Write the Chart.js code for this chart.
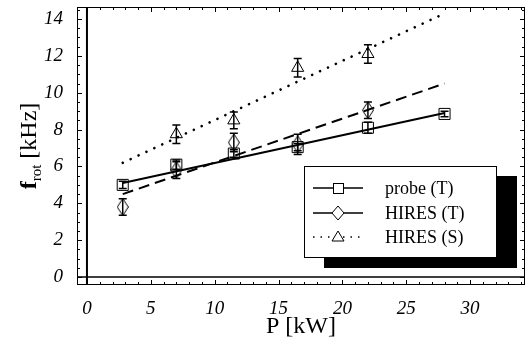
<!DOCTYPE html>
<html>
<head>
<meta charset="utf-8">
<script src="https://cdn.jsdelivr.net/npm/chart.js@4.4.1/dist/chart.umd.min.js"></script>
<style>
  html, body { margin: 0; background: #fff; }
  #wrap { width: 532px; height: 343px; }
</style>
</head>
<body>
<div id="wrap"><canvas id="frotChart"></canvas></div>
<script>
const probeP = [2.8, 7.0, 11.5, 16.5, 22.0, 28.0];
const probeF = [5.0, 6.1, 6.7, 7.05, 8.1, 8.85];
const probeErr = [0.2, 0.25, 0.2, 0.2, 0.3, 0.15];

const hiresTP = [2.8, 7.0, 11.5, 16.5, 22.0];
const hiresTF = [3.8, 5.8, 7.3, 7.2, 9.05];
const hiresTErr = [0.45, 0.45, 0.5, 0.55, 0.45];

const hiresSP = [7.0, 11.5, 16.5, 22.0];
const hiresSF = [7.75, 8.5, 11.35, 12.1];
const hiresSErr = [0.5, 0.45, 0.5, 0.5];

// linear fits (end points)
const fitP = [2.8, 28.0];
const probeFit = [5.1, 8.9];
const hiresTFit = [4.5, 10.5];
const hiresSFit = [6.2, 14.3];

const xTicks = [0, 5, 10, 15, 20, 25, 30];
const yTicks = [0, 2, 4, 6, 8, 10, 12, 14];

const serif = "'Liberation Serif', 'DejaVu Serif', serif";

function pts(xs, ys) {
  return xs.map((x, i) => ({ x: x, y: ys[i] }));
}

// tall diamond marker
function diamondCanvas() {
  const c = document.createElement("canvas");
  c.width = 12; c.height = 18;
  const g = c.getContext("2d");
  g.strokeStyle = "#000";
  g.lineWidth = 1;
  g.beginPath();
  g.moveTo(6, 0.5); g.lineTo(11.5, 9); g.lineTo(6, 17.5); g.lineTo(0.5, 9);
  g.closePath();
  g.stroke();
  return c;
}
const diamond = diamondCanvas();

const markerSets = [
  { label: "probe (T)", data: pts(probeP, probeF), err: probeErr, pointStyle: "rect", pointRadius: 7.8 },
  { label: "HIRES (T)", data: pts(hiresTP, hiresTF), err: hiresTErr, pointStyle: diamond, pointRadius: 8 },
  { label: "HIRES (S)", data: pts(hiresSP, hiresSF), err: hiresSErr, pointStyle: "triangle", pointRadius: 7 }
];

const fitSets = [
  { data: pts(fitP, probeFit), borderDash: [], width: 2 },
  { data: pts(fitP, hiresTFit), borderDash: [11, 6], width: 2 },
  { data: pts(fitP, hiresSFit), borderDash: [0.1, 8.6], width: 2.6, cap: "round" }
];

const datasets = [];
fitSets.forEach(f => datasets.push({
  data: f.data, showLine: true, pointRadius: 0, borderColor: "#000",
  borderWidth: f.width, borderDash: f.borderDash, borderCapStyle: f.cap || "butt",
  fill: false
}));
markerSets.forEach(m => datasets.push({
  label: m.label, data: m.data, err: m.err, showLine: false,
  pointStyle: m.pointStyle, pointRadius: m.pointRadius,
  pointBorderColor: "#000", pointBackgroundColor: "rgba(0,0,0,0)", pointBorderWidth: 1
}));

const framePlugin = {
  id: "frame",
  beforeDatasetsDraw(chart) {
    const { ctx, chartArea: a, scales: { x, y } } = chart;
    ctx.save();
    ctx.strokeStyle = "#000";
    // zero lines
    ctx.lineWidth = 1.5;
    ctx.beginPath();
    ctx.moveTo(a.left, y.getPixelForValue(0));
    ctx.lineTo(a.right, y.getPixelForValue(0));
    ctx.stroke();
    ctx.lineWidth = 2;
    ctx.beginPath();
    ctx.moveTo(x.getPixelForValue(0), a.top);
    ctx.lineTo(x.getPixelForValue(0), a.bottom);
    ctx.stroke();
    // frame
    ctx.lineWidth = 1;
    ctx.strokeRect(a.left + 0.5, a.top + 0.5, a.right - a.left - 1, a.bottom - a.top - 1);
    // ticks pointing inward
    ctx.beginPath();
    for (let v = 0; v <= x.max; v += 1) {
      const px = Math.round(x.getPixelForValue(v)) + 0.5;
      const len = v % 5 === 0 ? 5 : 3;
      ctx.moveTo(px, a.bottom); ctx.lineTo(px, a.bottom - len);
      ctx.moveTo(px, a.top); ctx.lineTo(px, a.top + len);
    }
    for (let v = 0; v <= y.max; v += 0.5) {
      const py = Math.round(y.getPixelForValue(v)) + 0.5;
      const len = v % 2 === 0 ? 5 : 3;
      ctx.moveTo(a.left, py); ctx.lineTo(a.left + len, py);
      ctx.moveTo(a.right, py); ctx.lineTo(a.right - len, py);
    }
    ctx.stroke();
    ctx.restore();
  },
  afterDatasetsDraw(chart) {
    const { ctx, scales: { x, y } } = chart;
    ctx.save();
    ctx.strokeStyle = "#000";
    ctx.lineWidth = 1.5;
    chart.data.datasets.forEach(ds => {
      if (!ds.err) return;
      ds.data.forEach((p, i) => {
        const px = x.getPixelForValue(p.x);
        const y1 = y.getPixelForValue(p.y - ds.err[i]);
        const y2 = y.getPixelForValue(p.y + ds.err[i]);
        ctx.beginPath();
        ctx.moveTo(px, y1); ctx.lineTo(px, y2);
        ctx.moveTo(px - 4, y1); ctx.lineTo(px + 4, y1);
        ctx.moveTo(px - 4, y2); ctx.lineTo(px + 4, y2);
        ctx.stroke();
      });
    });
    ctx.restore();
  },
  afterDraw(chart) {
    const { ctx, chartArea: a } = chart;
    ctx.save();
    // legend with drop shadow
    const bx = 304, by = 166, bw = 193, bh = 92;
    ctx.fillStyle = "#000";
    ctx.fillRect(bx + 20, by + 10, bw, bh);
    ctx.fillStyle = "#fff";
    ctx.fillRect(bx, by, bw, bh);
    ctx.strokeStyle = "#000";
    ctx.lineWidth = 1;
    ctx.strokeRect(bx + 0.5, by + 0.5, bw - 1, bh - 1);
    const rows = [188, 213, 237];
    ctx.font = "18px " + serif;
    ctx.textBaseline = "middle";
    ctx.textAlign = "left";
    markerSets.forEach((m, i) => {
      const ry = rows[i];
      ctx.save();
      ctx.strokeStyle = "#000";
      ctx.lineWidth = 1.5;
      if (i === 2) ctx.setLineDash([1.5, 6]);
      ctx.beginPath();
      ctx.moveTo(313, ry); ctx.lineTo(363, ry);
      ctx.stroke();
      ctx.restore();
      ctx.fillStyle = "#fff";
      ctx.strokeStyle = "#000";
      ctx.lineWidth = 1;
      if (i === 0) {
        ctx.fillRect(333, ry - 5, 11, 11);
        ctx.strokeRect(333.5, ry - 4.5, 10, 10);
      } else if (i === 1) {
        ctx.beginPath();
        ctx.moveTo(338, ry - 7); ctx.lineTo(344, ry); ctx.lineTo(338, ry + 7); ctx.lineTo(332, ry);
        ctx.closePath(); ctx.fill(); ctx.stroke();
      } else {
        ctx.beginPath();
        ctx.moveTo(338, ry - 6); ctx.lineTo(344, ry + 4); ctx.lineTo(332, ry + 4);
        ctx.closePath(); ctx.fill(); ctx.stroke();
      }
      ctx.fillStyle = "#000";
      ctx.fillText(m.label, 385, ry + 1);
    });
    // axis titles
    ctx.fillStyle = "#000";
    ctx.textAlign = "center";
    ctx.textBaseline = "alphabetic";
    ctx.font = "24px " + serif;
    ctx.fillText("P [kW]", (a.left + a.right) / 2, 333);
    ctx.translate(36, (a.top + a.bottom) / 2);
    ctx.rotate(-Math.PI / 2);
    ctx.textAlign = "left";
    const partF = "f", partRot = "rot", partUnit = " [kHz]";
    ctx.font = "bold 24px " + serif;
    const wF = ctx.measureText(partF).width;
    ctx.font = "15px " + serif;
    const wRot = ctx.measureText(partRot).width;
    ctx.font = "24px " + serif;
    const wUnit = ctx.measureText(partUnit).width;
    let sx = -(wF + wRot + wUnit) / 2;
    ctx.font = "bold 24px " + serif;
    ctx.fillText(partF, sx, 0);
    sx += wF;
    ctx.font = "15px " + serif;
    ctx.fillText(partRot, sx, 5);
    sx += wRot;
    ctx.font = "24px " + serif;
    ctx.fillText(partUnit, sx, 0);
    ctx.restore();
  }
};

new Chart(document.getElementById("frotChart").getContext("2d"), {
  type: "scatter",
  data: { datasets },
  options: {
    responsive: true,
    maintainAspectRatio: false,
    animation: false,
    devicePixelRatio: 1,
    layout: { autoPadding: false, padding: { top: 7, right: 7, left: 0, bottom: 0 } },
    plugins: { legend: { display: false }, tooltip: { enabled: false } },
    scales: {
      x: {
        type: "linear", min: -0.78, max: 34.3,
        grid: { display: false, drawTicks: false },
        border: { display: false },
        afterFit(s) { s.height = 58; s.paddingLeft = 0; s.paddingRight = 0; },
        afterBuildTicks(s) { s.ticks = xTicks.map(v => ({ value: v })); },
        ticks: {
          padding: 13, color: "#000",
          font: { family: serif, size: 19, style: "italic" },
          maxRotation: 0
        }
      },
      y: {
        type: "linear", min: -0.43, max: 14.65,
        grid: { display: false, drawTicks: false },
        border: { display: false },
        afterFit(s) { s.width = 77; s.paddingTop = 0; s.paddingBottom = 0; },
        afterBuildTicks(s) { s.ticks = yTicks.map(v => ({ value: v })); },
        ticks: {
          padding: 14, color: "#000",
          font: { family: serif, size: 19, style: "italic" }
        }
      }
    }
  },
  plugins: [framePlugin]
});
</script>
</body>
</html>
